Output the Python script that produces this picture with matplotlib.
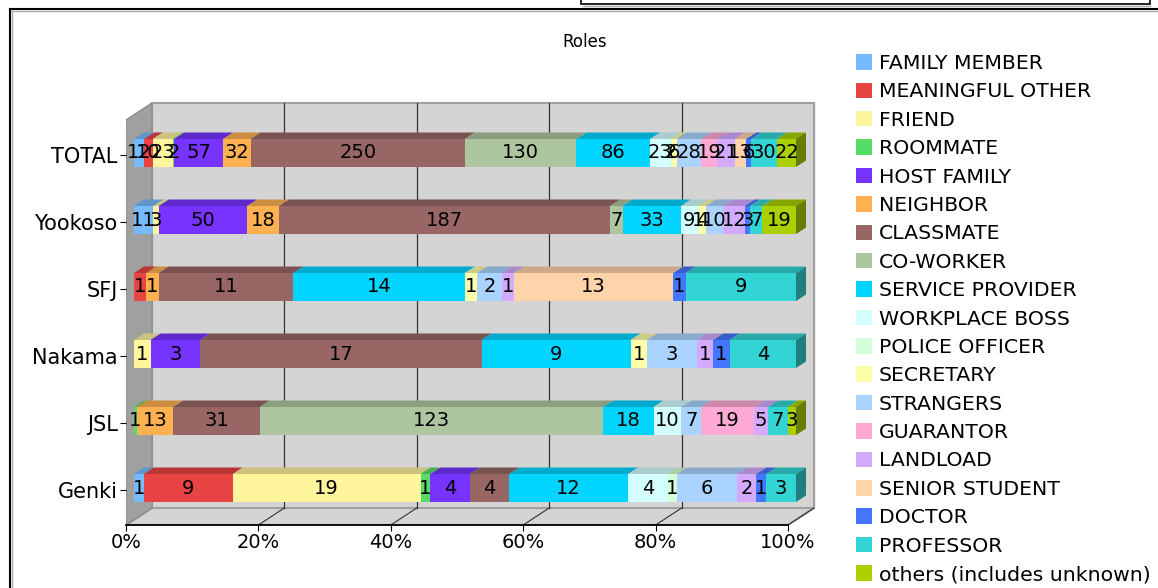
import matplotlib
matplotlib.use("Agg")
import matplotlib.pyplot as plt
import numpy as np
from matplotlib.patches import Polygon, Patch, Rectangle
from matplotlib.lines import Line2D
from matplotlib.transforms import offset_copy
from matplotlib.colors import to_rgb

# ---- data ----
roles = ["FAMILY MEMBER", "MEANINGFUL OTHER", "FRIEND", "ROOMMATE", "HOST FAMILY",
         "NEIGHBOR", "CLASSMATE", "CO-WORKER", "SERVICE PROVIDER", "WORKPLACE BOSS",
         "POLICE OFFICER", "SECRETARY", "STRANGERS", "GUARANTOR", "LANDLOAD",
         "SENIOR STUDENT", "DOCTOR", "PROFESSOR", "others (includes unknown)"]
colors = ["#77bbff", "#e84444", "#fff59d", "#55dd66", "#7733ff", "#ffb050",
          "#996666", "#aec6a0", "#00d4ff", "#d4ffff", "#d4ffd8", "#ffffaa",
          "#aad4ff", "#ffaad4", "#d4aaff", "#ffd4aa", "#4477ff", "#33d4d4", "#aad000"]
books = ["Genki", "JSL", "Nakama", "SFJ", "Yookoso", "TOTAL"]
genki = [1, 9, 19, 1, 4, 0, 4, 0, 12, 4, 1, 0, 6, 0, 2, 0, 1, 3, 0]
jsl = [0, 0, 0, 1, 0, 13, 31, 123, 18, 10, 0, 0, 7, 19, 5, 0, 0, 7, 3]
nakama = [0, 0, 1, 0, 3, 0, 17, 0, 9, 0, 0, 1, 3, 0, 1, 0, 1, 4, 0]
sfj = [0, 1, 0, 0, 0, 1, 11, 0, 14, 0, 0, 1, 2, 0, 1, 13, 1, 9, 0]
yookoso = [11, 0, 3, 0, 50, 18, 187, 7, 33, 9, 1, 4, 10, 0, 12, 0, 3, 7, 19]
total = [12, 10, 23, 2, 57, 32, 250, 130, 86, 23, 2, 6, 28, 19, 21, 13, 6, 30, 22]
rows = [genki, jsl, nakama, sfj, yookoso, total]
xticks = [0, 20, 40, 60, 80, 100]


def shade(c, f):
    r, g, b = to_rgb(c)
    return (r * f, g * f, b * f)


W, H = 1158, 588
fig = plt.figure(figsize=(W / 100, H / 100), dpi=100)
plt.rcParams["font.family"] = "DejaVu Sans"

# axes: x=0 at px 126, x=100 at px 788; y rows 67 px apart
x_per, y_per = 6.62, 67.0
ax = fig.add_axes([126 / W, 63 / H, 694 / W, 430 / H])
ax.set_xlim(0, 694 / x_per)
ax.set_ylim(-35 / y_per, 395 / y_per)
ax.patch.set_visible(False)
for s in ax.spines.values():
    s.set_visible(False)

# 3d box: floor, back wall, left wall
wdx, wdy = 26 / x_per, 17 / y_per
y_floor = ax.get_ylim()[0]
y_top = 387 / y_per
ax.add_patch(Polygon([(0, y_floor), (100, y_floor), (100 + wdx, y_floor + wdy), (wdx, y_floor + wdy)],
                     fc="#d4d4d4", ec="#a0a0a0", lw=1.5, zorder=1))
ax.add_patch(Rectangle((wdx, y_floor + wdy), 100, y_top - y_floor - wdy,
                       fc="#d4d4d4", ec="#a0a0a0", lw=1.5, zorder=1))
ax.add_patch(Polygon([(0, y_floor), (wdx, y_floor + wdy), (wdx, y_top), (0, y_top - wdy)],
                     fc="#a0a0a0", ec="#8a8a8a", lw=1, zorder=1))
for v in xticks[1:]:
    ax.plot([v + wdx, v + wdx], [y_floor + wdy, y_top], color="#333333" if v < 100 else "#a0a0a0",
            lw=0.9, zorder=2)
    ax.plot([v, v + wdx], [y_floor, y_floor + wdy], color="#333333", lw=0.8, zorder=2)
ax.plot([0, 100], [y_floor, y_floor], color="black", lw=1.3, zorder=2, clip_on=False)

# stacked 3d bars
tr = offset_copy(ax.transData, fig=fig, x=8, y=2, units="dots")
bdx, bdy, bh = 10 / x_per, 6.5 / y_per, 28 / y_per
for i, vals in enumerate(rows):
    vals = np.array(vals, dtype=float)
    pct = vals / vals.sum() * 100
    left = np.concatenate([[0], np.cumsum(pct)[:-1]])
    last = np.nonzero(vals)[0][-1]
    for k in range(len(vals)):
        if vals[k] == 0:
            continue
        l, w = left[k], pct[k]
        ax.barh(i, w, left=l, height=bh, color=colors[k], lw=0, transform=tr, zorder=3)
        top = i + bh / 2
        ax.add_patch(Polygon([(l, top), (l + w, top), (l + w + bdx, top + bdy), (l + bdx, top + bdy)],
                             fc=shade(colors[k], 0.8), lw=0, transform=tr, zorder=3))
        if k == last:
            r = l + w
            ax.add_patch(Polygon([(r, i - bh / 2), (r, top), (r + bdx, top + bdy), (r + bdx, i - bh / 2 + bdy)],
                                 fc=shade(colors[k], 0.6), lw=0, transform=tr, zorder=3))
        ax.text(l + w / 2, i, str(int(vals[k])), transform=tr, ha="center", va="center",
                fontsize=14, zorder=5)

ax.set_yticks(range(len(books)), books, fontsize=15)
ax.set_xticks(xticks, [f"{v}%" for v in xticks], fontsize=14)
ax.tick_params(axis="y", length=4, pad=2)
ax.tick_params(axis="x", length=4, pad=2)

# title, legend, frame
fig.text(585 / W, 1 - 42 / H, "Roles", ha="center", va="center", fontsize=12)
handles = [Patch(fc=c, ec="none") for c in colors]
fig.legend(handles, roles, loc="upper left", bbox_to_anchor=(856 / W, 1 - 54 / H), frameon=False,
           fontsize=14.7, handlelength=0.79, handleheight=0.79, handletextpad=0.34,
           labelspacing=0.46, borderaxespad=0, borderpad=0)

fig.add_artist(Line2D([9.5 / W, 9.5 / W], [0, 1 - 9 / H], color="black", lw=1.5))
fig.add_artist(Line2D([9.5 / W, 1], [1 - 9 / H, 1 - 9 / H], color="black", lw=1.5))
fig.add_artist(Line2D([11.5 / W, 11.5 / W], [0, 1 - 11 / H], color="#aaaaaa", lw=1))
fig.add_artist(Line2D([11.5 / W, 1], [1 - 11 / H, 1 - 11 / H], color="#aaaaaa", lw=1))
fig.add_artist(Rectangle((581 / W, 1 - 4 / H), 569 / W, 10 / H, fc="white", ec="black", lw=1.2,
                         transform=fig.transFigure))
fig.add_artist(Line2D([583 / W, 1150 / W], [1 - 6 / H, 1 - 6 / H], color="#aaaaaa", lw=1))

fig.savefig("out.png", dpi=100)
